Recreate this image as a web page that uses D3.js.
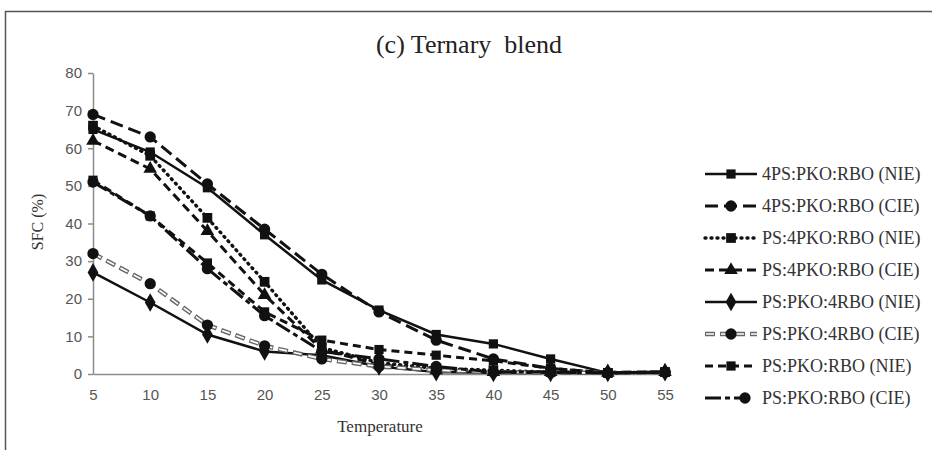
<!DOCTYPE html>
<html>
<head>
<meta charset="utf-8">
<script src="https://cdn.jsdelivr.net/npm/d3@7"></script>
<style>
  body { margin: 0; background: #fff; }
  svg { display: block; }
</style>
</head>
<body>
<svg id="chart"></svg>
<script>
const temperatures = [5, 10, 15, 20, 25, 30, 35, 40, 45, 50, 55];
const yTicks = [0, 10, 20, 30, 40, 50, 60, 70, 80];

const seriesNames = [
    "4PS:PKO:RBO (NIE)", "4PS:PKO:RBO (CIE)",
    "PS:4PKO:RBO (NIE)", "PS:4PKO:RBO (CIE)",
    "PS:PKO:4RBO (NIE)", "PS:PKO:4RBO (CIE)",
    "PS:PKO:RBO (NIE)", "PS:PKO:RBO (CIE)"
];

const ps4NIE = [65, 59, 49.5, 37, 25, 17, 10.5, 8, 4, 0.3, 0.5];
const ps4CIE = [69, 63, 50.5, 38.5, 26.5, 16.5, 9, 4, 1.5, 0.3, 0.5];
const pko4NIE = [66, 58, 41.5, 24.5, 7, 3, 1.5, 1, 0.5, 0.3, 0.5];
const pko4CIE = [62, 54.5, 38, 21, 6.5, 2.5, 1, 0.5, 0.5, 0.3, 0.5];
const rbo4NIE = [27, 19, 10.5, 6, 5, 2, 0.5, 0.3, 0.3, 0.3, 0.5];
const rbo4CIE = [32, 24, 13, 7.5, 4, 2, 1, 0.5, 0.3, 0.3, 0.5];
const equalNIE = [51.5, 42, 29.5, 16.5, 9, 6.5, 5, 3.5, 1.5, 0.3, 0.5];
const equalCIE = [51, 42, 28, 15.5, 6, 4, 2, 0.5, 0.5, 0.3, 0.5];

const seriesValues = [ps4NIE, ps4CIE, pko4NIE, pko4CIE, rbo4NIE, rbo4CIE, equalNIE, equalCIE];

// line / marker style per series
const styles = [
    { dash: null, width: 2.5, symbol: d3.symbolSquare, size: 85 },
    { dash: "13,6", width: 3, symbol: d3.symbolCircle, size: 100 },
    { dash: "1,5", width: 3.4, cap: "round", symbol: d3.symbolSquare, size: 95 },
    { dash: "9,5", width: 3, symbol: d3.symbolTriangle, size: 80 },
    { dash: null, width: 2.5, symbol: d3.symbolDiamond, size: 100 },
    { dash: "10,5", width: 4.5, hollow: true, symbol: d3.symbolCircle, size: 100 },
    { dash: "8,5", width: 3, symbol: d3.symbolSquare, size: 85 },
    { dash: "16,4,5,4", width: 3, symbol: d3.symbolCircle, size: 100 }
];

const width = 932, height = 450;
const svg = d3.select("#chart").attr("width", width).attr("height", height);

// outer frame (left + top edge of the cropped figure)
svg.append("path")
    .attr("d", `M5.5,${height} V11.5 H${width}`)
    .attr("fill", "none")
    .attr("stroke", "#555")
    .attr("stroke-width", 1.5);

const xScale = d3.scaleLinear().domain([5, 55]).range([93, 665]);
const yScale = d3.scaleLinear().domain([0, 80]).range([374, 73]);

svg.append("text")
    .attr("x", 469)
    .attr("y", 53)
    .attr("text-anchor", "middle")
    .style("font-family", "'Liberation Serif', serif")
    .style("font-size", "26px")
    .style("fill", "#222")
    .attr("xml:space", "preserve")
    .text("(c) Ternary  blend");

const yAxis = svg.append("g")
    .attr("transform", `translate(${xScale(5)},0)`)
    .call(d3.axisLeft(yScale).tickValues(yTicks).tickSize(5).tickSizeOuter(0));

const xAxis = svg.append("g")
    .attr("transform", `translate(0,${yScale(0)})`)
    .call(d3.axisBottom(xScale).tickValues(temperatures).tickSize(0).tickPadding(15));

[xAxis, yAxis].forEach(a => {
    a.selectAll("path, line").attr("stroke", "#8c8c8c").attr("stroke-width", 1.5);
    a.selectAll("text")
        .style("font-family", "'Liberation Sans', Arial, sans-serif")
        .style("font-size", "15px")
        .style("fill", "#555");
});
yAxis.selectAll("text").attr("dx", "-3px");

svg.append("text")
    .attr("transform", `translate(43,222) rotate(-90)`)
    .attr("text-anchor", "middle")
    .style("font-family", "'Liberation Serif', serif")
    .style("font-size", "16px")
    .style("fill", "#333")
    .text("SFC (%)");

svg.append("text")
    .attr("x", 380)
    .attr("y", 432)
    .attr("text-anchor", "middle")
    .style("font-family", "'Liberation Serif', serif")
    .style("font-size", "17px")
    .style("fill", "#333")
    .text("Temperature");

const line = d3.line()
    .x((d, i) => xScale(temperatures[i]))
    .y(d => yScale(d));

function drawStroke(sel, st) {
    if (st.hollow) {
        // outlined dashes: dark dash with a white core
        sel.append("path").call(p => p
            .attr("fill", "none").attr("stroke", "#666")
            .attr("stroke-width", st.width).attr("stroke-dasharray", st.dash));
        sel.append("path").call(p => p
            .attr("fill", "none").attr("stroke", "#fff")
            .attr("stroke-width", st.width - 2.8)
            .attr("stroke-dasharray", "8,7").attr("stroke-dashoffset", -1));
    } else {
        sel.append("path").call(p => p
            .attr("fill", "none").attr("stroke", "#111")
            .attr("stroke-width", st.width)
            .attr("stroke-linecap", st.cap || "butt")
            .attr("stroke-dasharray", st.dash));
    }
}

const plot = svg.append("g");
seriesValues.forEach((vals, k) => {
    const st = styles[k];
    const g = plot.append("g");
    drawStroke(g, st);
    g.selectAll("path").attr("d", line(vals));
    g.selectAll(".marker")
        .data(vals)
        .join("path")
        .attr("class", "marker")
        .attr("transform", (d, i) => `translate(${xScale(temperatures[i])},${yScale(d)})`)
        .attr("d", d3.symbol().type(st.symbol).size(st.size))
        .attr("fill", "#111");
});

// legend
const legend = svg.append("g").attr("transform", "translate(705,174)");
const rowGap = 32;
seriesNames.forEach((name, k) => {
    const st = styles[k];
    const row = legend.append("g").attr("transform", `translate(0,${k * rowGap})`);
    const x1 = 0, x2 = k === 7 ? 48 : 52;
    drawStroke(row, st);
    row.selectAll("path").attr("d", `M${x1},0 H${x2}`);
    row.append("path")
        .attr("transform", `translate(${k === 7 ? 40 : 26},0)`)
        .attr("d", d3.symbol().type(st.symbol).size(st.size))
        .attr("fill", "#111");
    row.append("text")
        .attr("x", 57)
        .attr("dy", "0.35em")
        .style("font-family", "'Liberation Serif', serif")
        .style("font-size", "18px")
        .style("fill", "#333")
        .text(name);
});
</script>
</body>
</html>
